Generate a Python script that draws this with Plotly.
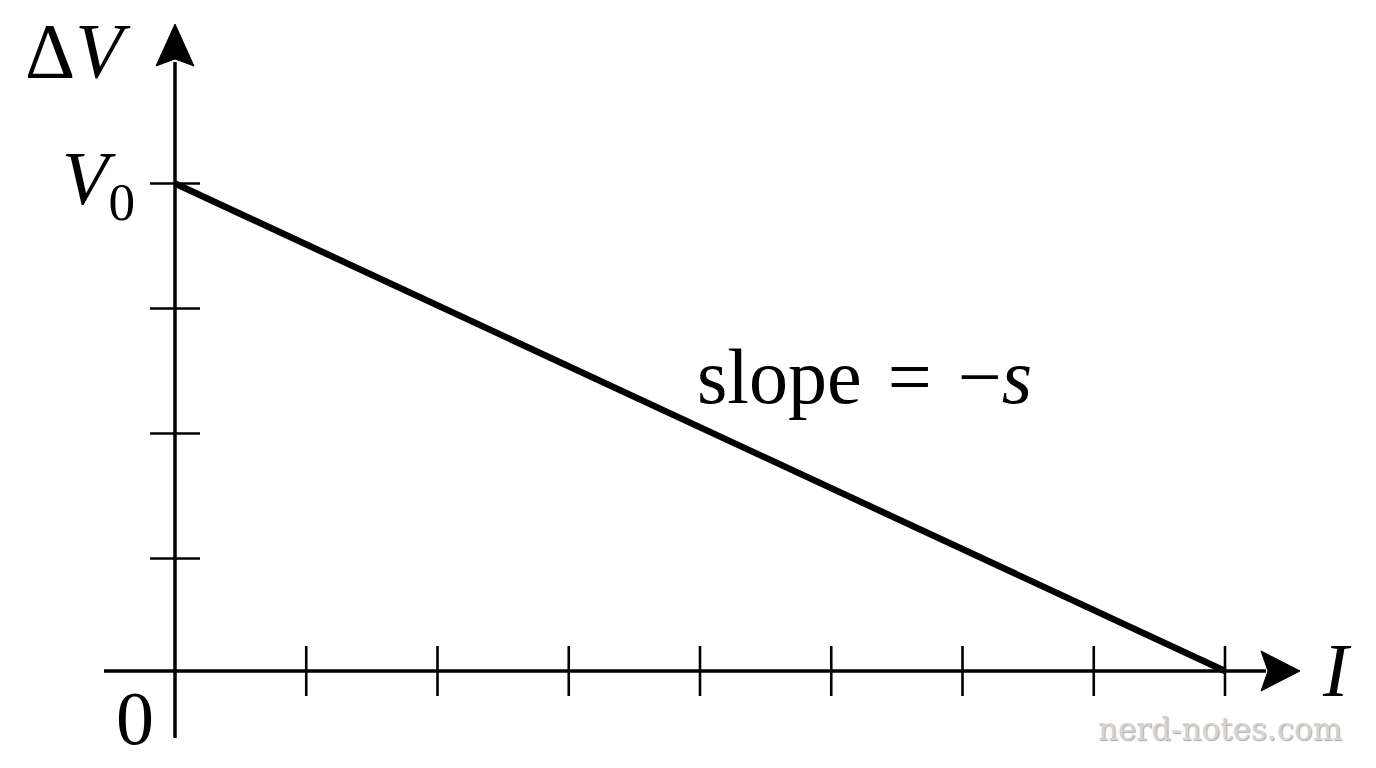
import plotly.graph_objects as go

# ---- data ----
I_ticks = [0, 1, 2, 3, 4, 5, 6, 7, 8]
dV_ticks = [0.9, 1.9, 2.9, 3.9]
line_I = [0, 8]
line_dV = [3.9, 0]
label_V0 = 3.9

W, H = 1376, 768
# pixel <-> data mapping (x: 131.25 px per unit, origin at px 175; y: 125 px per unit, origin at py 671)
XS, X0 = 131.25, 175.0
YS, Y0 = 125.0, 671.0
def X(px):
    return (px - X0) / XS
def Y(py):
    return (Y0 - py) / YS

fig = go.Figure()
BLACK = "black"

# axes lines
fig.add_trace(go.Scatter(x=[X(104), X(1266)], y=[0, 0], mode="lines",
                         line=dict(color=BLACK, width=3.5), hoverinfo="skip"))
fig.add_trace(go.Scatter(x=[0, 0], y=[Y(738), Y(62)], mode="lines",
                         line=dict(color=BLACK, width=3.5), hoverinfo="skip"))

# arrow heads
fig.add_trace(go.Scatter(x=[X(1300), X(1261), X(1268), X(1261), X(1300)],
                         y=[0, Y(651), 0, Y(691), 0], mode="lines", fill="toself",
                         fillcolor=BLACK, line=dict(color=BLACK, width=1), hoverinfo="skip"))
fig.add_trace(go.Scatter(x=[0, X(156), 0, X(194), 0],
                         y=[Y(24), Y(66), Y(59), Y(66), Y(24)], mode="lines", fill="toself",
                         fillcolor=BLACK, line=dict(color=BLACK, width=1), hoverinfo="skip"))

# ticks crossing axes
hx = 25 / YS
tx, ty = [], []
for t in I_ticks[1:]:
    tx += [t, t, None]
    ty += [-hx, hx, None]
hy = 25 / XS
for v in dV_ticks:
    tx += [-hy, hy, None]
    ty += [v, v, None]
fig.add_trace(go.Scatter(x=tx, y=ty, mode="lines",
                         line=dict(color=BLACK, width=2.6), hoverinfo="skip"))

# main line
fig.add_trace(go.Scatter(x=line_I, y=line_dV, mode="lines",
                         line=dict(color=BLACK, width=6.5), hoverinfo="skip"))

FONT = "Liberation Serif"
def ann(text, px, py, size, xa="center", ya="middle", color=BLACK):
    fig.add_annotation(x=X(px), y=Y(py), text=text, showarrow=False,
                       xanchor=xa, yanchor=ya,
                       font=dict(family=FONT, size=size, color=color))

ann("Δ<i>V</i>", 78, 50, 78)
ann("<i>V</i><sub>0</sub>", 98, 184, 76)
ann("0", 135, 718, 76)
ann("slope\u2004=\u2004−<i>s</i>", 864, 376, 78)
ann("<i>I</i>", 1337, 670, 76)

fig.add_annotation(x=X(1220), y=Y(729), text="nerd-notes.com", showarrow=False,
                   xanchor="center", yanchor="middle",
                   font=dict(family="DejaVu Serif", size=31, color="#d4d4d4",
                             shadow="1px 1px 1px #a8a8a8"))

fig.update_layout(
    width=W, height=H, margin=dict(l=0, r=0, t=0, b=0),
    paper_bgcolor="white", plot_bgcolor="white", showlegend=False,
    xaxis=dict(range=[X(0), X(W)], visible=False, fixedrange=True),
    yaxis=dict(range=[Y(H), Y(0)], visible=False, fixedrange=True),
)

fig.write_html("out.html", config={"displayModeBar": False},
               post_script="document.body.style.margin='0';document.body.style.overflow='hidden';")
